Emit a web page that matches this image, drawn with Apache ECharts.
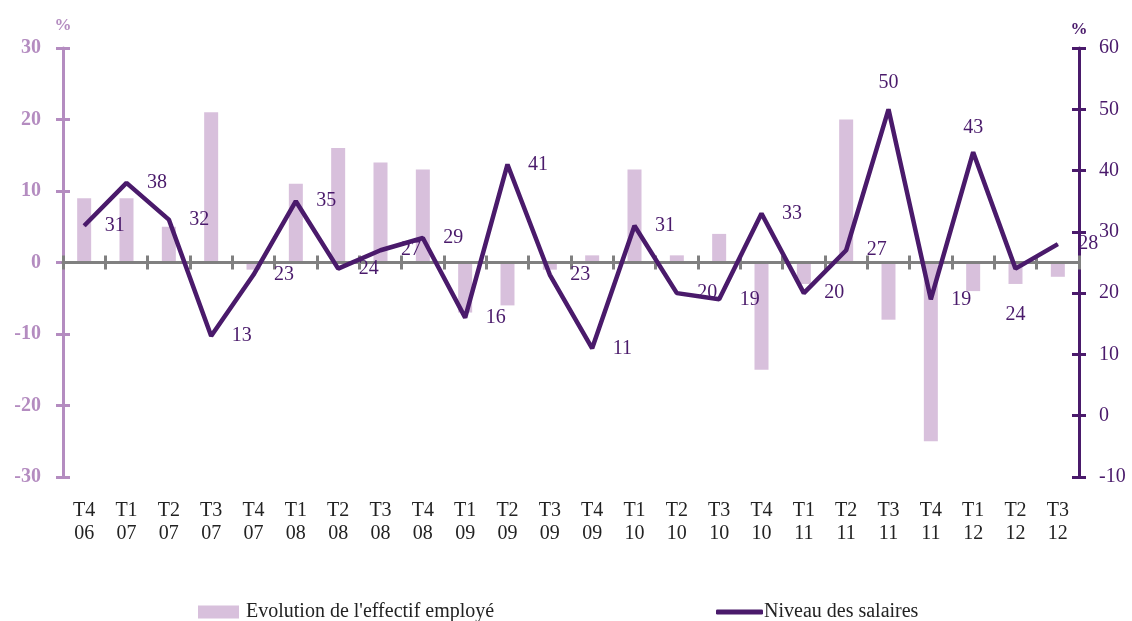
<!DOCTYPE html>
<html>
<head>
<meta charset="utf-8">
<script src="https://cdn.jsdelivr.net/npm/echarts@6/dist/echarts.min.js"></script>
<style>
  html, body { margin: 0; padding: 0; background: #fff; }
  #chart { width: 1132px; height: 621px; }
</style>
</head>
<body>
<div id="chart"></div>
<script>
// trimestres
var categories = ['T4\n06', 'T1\n07', 'T2\n07', 'T3\n07', 'T4\n07', 'T1\n08', 'T2\n08', 'T3\n08',
  'T4\n08', 'T1\n09', 'T2\n09', 'T3\n09', 'T4\n09', 'T1\n10', 'T2\n10', 'T3\n10',
  'T4\n10', 'T1\n11', 'T2\n11', 'T3\n11', 'T4\n11', 'T1\n12', 'T2\n12', 'T3\n12']
var effectif = [9, 9, 5, 21, -1, 11, 16, 14, 13, -7, -6, -1, 1, 13, 1, 4, -15, -3, 20, -8, -25, -4, -3, -2]
var salaires = [31, 38, 32, 13, 23, 35, 24, 27, 29, 16, 41, 23, 11, 31, 20, 19, 33, 20, 27, 50, 19, 43, 24, 28]

var serif = '"Liberation Serif", "DejaVu Serif", serif'
var light = '#b48cc0'
var dark = '#4a1a6b'
var gray = '#808080'

// quelques étiquettes placées autrement que à droite
var labelPlace = { 19: ['top', 16], 21: ['top', 14], 22: ['bottom', 36] }

var salairesData = salaires.map(function(v, i) {
  var p = labelPlace[i]
  if (!p) return v
  return { value: v, label: { position: p[0], distance: p[1] } }
})

var chart = echarts.init(document.getElementById('chart'))

chart.setOption({
  backgroundColor: '#fff',
  animation: false,
  grid: { left: 63, right: 53, top: 48, bottom: 144 },
  legend: [
    {
      left: 193, top: 597,
      itemWidth: 41, itemHeight: 13,
      textStyle: { fontFamily: serif, fontSize: 20, color: '#222', padding: [0, 0, 0, 2] },
      data: [{ name: "Evolution de l'effectif employé", icon: 'rect' }]
    },
    {
      left: 711, top: 597,
      itemWidth: 47, itemHeight: 5,
      textStyle: { fontFamily: serif, fontSize: 20, color: '#222', padding: [0, 0, 0, -4] },
      data: [{ name: 'Niveau des salaires', icon: 'roundRect', itemStyle: { color: dark } }]
    }
  ],
  xAxis: [
    {
      // ligne du zéro, graduations vers le bas
      type: 'category',
      data: categories,
      boundaryGap: true,
      position: 'bottom',
      z: 3,
      axisLine: { onZero: true, onZeroAxisIndex: 0, lineStyle: { color: gray, width: 3 } },
      axisTick: { show: true, inside: false, length: 7, lineStyle: { color: gray, width: 3 } },
      axisLabel: { show: false },
      splitLine: { show: false }
    },
    {
      // graduations vers le haut
      type: 'category',
      data: categories,
      boundaryGap: true,
      position: 'top',
      z: 3,
      axisLine: { show: false, onZero: true, onZeroAxisIndex: 0 },
      axisTick: { show: true, inside: false, length: 7, lineStyle: { color: gray, width: 3 } },
      axisLabel: { show: false }
    },
    {
      // étiquettes en bas
      type: 'category',
      data: categories,
      boundaryGap: true,
      position: 'bottom',
      axisLine: { show: false, onZero: false },
      axisTick: { show: false },
      axisLabel: {
        margin: 22,
        fontFamily: serif,
        fontSize: 20,
        lineHeight: 23,
        color: '#222',
        interval: 0
      }
    }
  ],
  yAxis: [
    {
      type: 'value',
      position: 'left',
      min: -30, max: 30, interval: 10,
      name: '%',
      nameGap: 14,
      nameTextStyle: { color: light, fontFamily: serif, fontSize: 17, fontWeight: 'bold', align: 'center' },
      axisLine: { show: true, lineStyle: { color: light, width: 3 } },
      axisTick: { show: true, inside: false, length: 7, lineStyle: { color: light, width: 3 } },
      axisLabel: { margin: 22, fontFamily: serif, fontSize: 20, fontWeight: 'bold', color: light },
      splitLine: { show: false }
    },
    {
      type: 'value',
      position: 'right',
      min: -10, max: 60, interval: 10,
      name: '%',
      nameGap: 10,
      nameTextStyle: { color: dark, fontFamily: serif, fontSize: 17, fontWeight: 'bold', align: 'center' },
      axisLine: { show: true, lineStyle: { color: dark, width: 3 } },
      axisTick: { show: true, inside: false, length: 7, lineStyle: { color: dark, width: 3 } },
      axisLabel: { margin: 20, fontFamily: serif, fontSize: 20, color: dark },
      splitLine: { show: false }
    },
    {
      type: 'value',
      position: 'left',
      min: -30, max: 30, interval: 10,
      axisLine: { show: false },
      axisTick: { show: true, inside: true, length: 7, lineStyle: { color: light, width: 3 } },
      axisLabel: { show: false },
      splitLine: { show: false }
    },
    {
      type: 'value',
      position: 'right',
      min: -10, max: 60, interval: 10,
      axisLine: { show: false },
      axisTick: { show: true, inside: true, length: 7, lineStyle: { color: dark, width: 3 } },
      axisLabel: { show: false },
      splitLine: { show: false }
    }
  ],
  series: [
    {
      name: "Evolution de l'effectif employé",
      type: 'bar',
      xAxisIndex: 0,
      yAxisIndex: 0,
      data: effectif,
      barWidth: 14,
      z: 1,
      itemStyle: { color: '#d8c0dc' }
    },
    {
      name: 'Niveau des salaires',
      type: 'line',
      xAxisIndex: 0,
      yAxisIndex: 1,
      data: salairesData,
      symbol: 'circle',
      symbolSize: 1,
      z: 5,
      lineStyle: { color: dark, width: 4.5 },
      itemStyle: { color: dark },
      label: {
        show: true,
        position: 'right',
        distance: 20,
        fontFamily: serif,
        fontSize: 20,
        color: dark
      }
    }
  ]
})
</script>
</body>
</html>
